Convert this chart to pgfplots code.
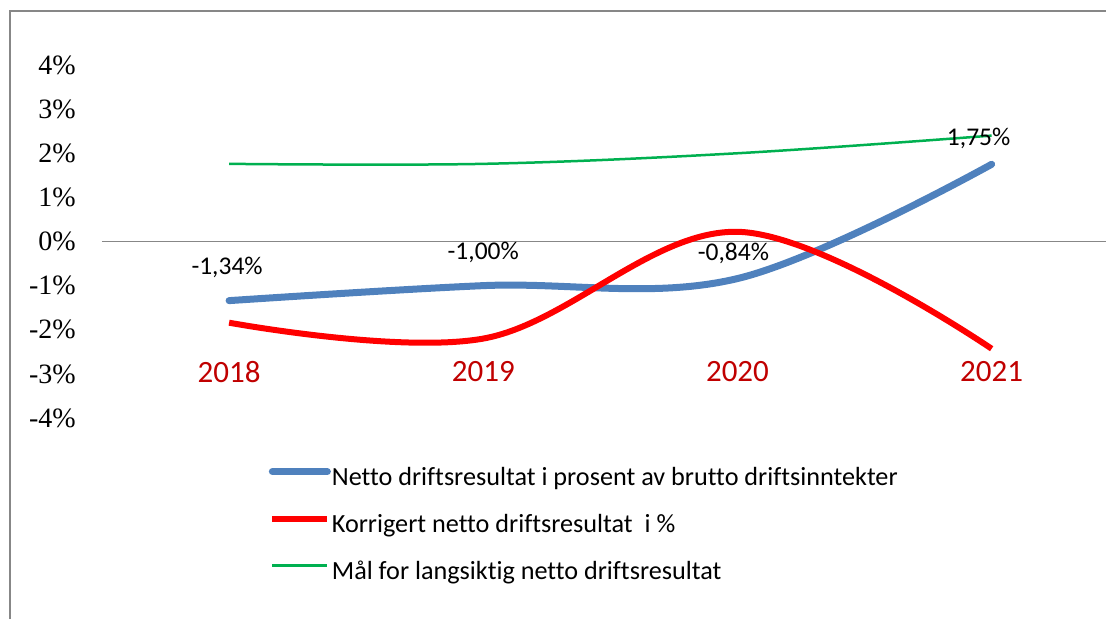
\documentclass[border=0pt]{standalone}
\usepackage{pgfplots}
\pgfplotsset{compat=1.18}
\usepackage{fontspec}
\setmainfont{Carlito}[Ligatures={NoCommon}]
\newfontfamily\seriffont{Liberation Serif}
\definecolor{cblue}{HTML}{4F81BD}
\definecolor{cred}{HTML}{FF0000}
\definecolor{cgreen}{HTML}{00B050}
\definecolor{cyear}{HTML}{C00000}
\definecolor{cframe}{HTML}{878787}
\begin{document}
\begin{tikzpicture}
\path[use as bounding box] (0,0) rectangle (1106pt,619pt);
\draw[cframe, line width=1.5pt] (10pt,0pt) -- (10pt,608pt) -- (1106pt,608pt);
\begin{axis}[
  at={(102pt,201pt)}, anchor=south west,
  scale only axis, width=1004pt, height=353pt,
  xmin=-0.5, xmax=3.45, ymin=-4, ymax=4,
  axis line style={draw=none},
  major tick length=0pt,
  xtick={0,1,2,3}, xticklabels={2018,2019,2020,2021},
  xticklabel style={font=\fontsize{31}{31}\selectfont, text=cyear, anchor=center, inner sep=0pt, yshift=46pt},
  ytick={-4,-3,-2,-1,0,1,2,3,4},
  yticklabels={-4\%,-3\%,-2\%,-1\%,0\%,1\%,2\%,3\%,4\%},
  yticklabel style={font=\seriffont\fontsize{28}{28}\selectfont, anchor=east, inner sep=0pt, xshift=-26pt},
  clip=false,
  legend style={at={(0.166,-0.13)}, anchor=north west, draw=none, fill=none,
    font=\fontsize{26.2}{26.2}\selectfont, inner sep=0pt, row sep=18pt,
    nodes={inner xsep=1pt, inner ysep=2pt, text height=19pt, text depth=6pt}},
  legend cell align=left,
  legend image code/.code={\draw[#1] (0pt,7pt) -- (55pt,7pt);},
]
\draw[cframe, line width=1.5pt] (axis cs:-0.5,0) -- (axis cs:3.45,0);
\addplot[cblue, line width=7pt, line cap=round, smooth, tension=0.6,
  nodes near coords, point meta=explicit symbolic,
  visualization depends on={\thisrow{dy} \as \dy},
  visualization depends on={\thisrow{dx} \as \dx},
  every node near coord/.append style={font=\fontsize{25.5}{25.5}\selectfont, text=black, anchor=center, yshift=\dy pt, xshift=\dx pt}]
  table[x=x, y=y, meta=lab] {
x y dy dx lab
0 -1.34 33 -2 {-1,34\%}
1 -1.00 33 0 {-1,00\%}
2 -0.84 25 -4 {-0,84\%}
3 1.75 26 -13 {1,75\%}
};
\addlegendentry{Netto driftsresultat i prosent av brutto driftsinntekter}
\addplot[cred, line width=6pt, smooth, tension=0.6] coordinates {(0,-1.84) (1,-2.2) (2,0.22) (3,-2.43)};
\addlegendentry{Korrigert netto driftsresultat\ \ i \%}
\addplot[cgreen, line width=2.5pt, smooth, tension=0.6] coordinates {(0,1.76) (1,1.76) (2,2.0) (3,2.4)};
\addlegendentry{Mål for langsiktig netto driftsresultat}
\end{axis}
\end{tikzpicture}
\end{document}
